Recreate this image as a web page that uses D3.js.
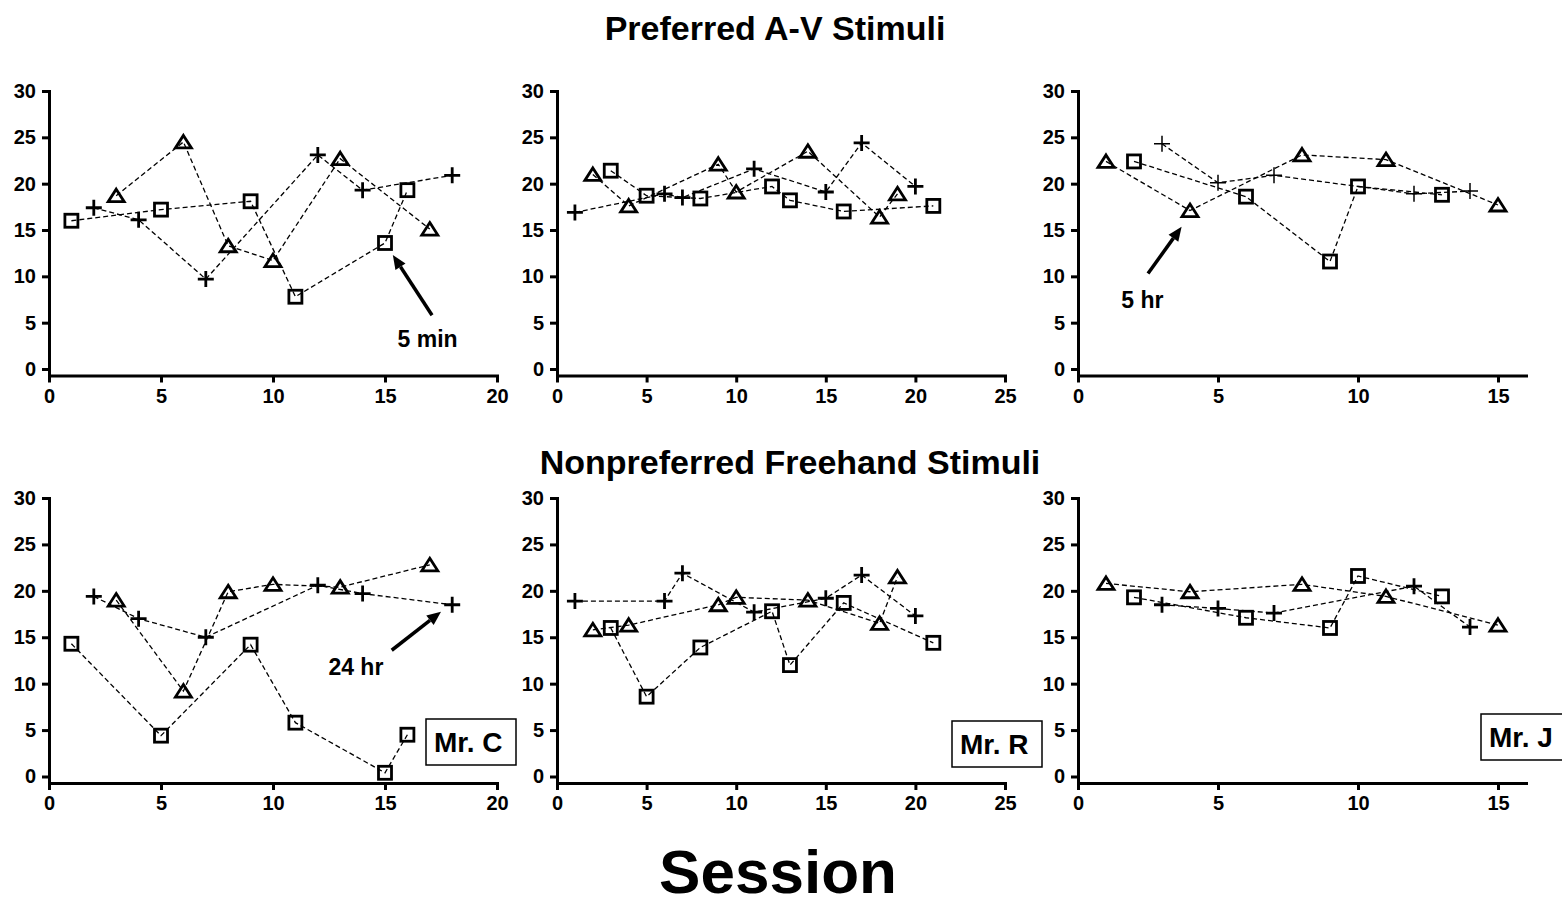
<!DOCTYPE html>
<html>
<head>
<meta charset="utf-8">
<script src="https://cdn.jsdelivr.net/npm/d3@7"></script>
<style>
body{margin:0;background:#fff;}
svg text{font-family:"Liberation Sans",Arial,sans-serif;font-weight:bold;fill:#000;}
</style>
</head>
<body>
<svg id="chart" width="1562" height="920"></svg>
<script>
// [session, score] pairs

// Mr. C, preferred A-V
var cPrefSquare   = [[1,16.0],[5,17.2],[9,18.1],[11,7.8],[15,13.6],[16,19.3]];
var cPrefTriangle = [[3,18.7],[6,24.5],[8,13.3],[10,11.7],[13,22.7],[17,15.1]];
var cPrefPlus     = [[2,17.4],[4,16.1],[7,9.7],[12,23.1],[14,19.3],[18,20.9]];
// Mr. R, preferred A-V
var rPrefSquare   = [[3,21.4],[5,18.7],[8,18.4],[12,19.7],[13,18.2],[16,17.0],[21,17.6]];
var rPrefTriangle = [[2,21.0],[4,17.6],[9,22.1],[10,19.1],[14,23.5],[18,16.4],[19,18.9]];
var rPrefPlus     = [[1,16.9],[6,18.9],[7,18.5],[11,21.6],[15,19.1],[17,24.4],[20,19.7]];
// Mr. J, preferred A-V
var jPrefSquare   = [[2,22.4],[6,18.6],[9,11.6],[10,19.7],[13,18.8]];
var jPrefTriangle = [[1,22.4],[4,17.1],[8,23.1],[11,22.6],[15,17.7]];
var jPrefPlus     = [[3,24.3],[5,20.1],[7,20.9],[12,18.9],[14,19.2]];
// Mr. C, nonpreferred freehand
var cNonSquare    = [[1,14.3],[5,4.4],[9,14.2],[11,5.8],[15,0.4],[16,4.5]];
var cNonTriangle  = [[3,19.0],[6,9.2],[8,19.9],[10,20.7],[13,20.4],[17,22.8]];
var cNonPlus      = [[2,19.4],[4,17.0],[7,15.0],[12,20.6],[14,19.7],[18,18.5]];
// Mr. R, nonpreferred freehand
var rNonSquare    = [[3,16.0],[5,8.6],[8,13.9],[12,17.8],[13,12.0],[16,18.7],[21,14.4]];
var rNonTriangle  = [[2,15.8],[4,16.3],[9,18.5],[10,19.3],[14,19.0],[18,16.5],[19,21.5]];
var rNonPlus      = [[1,18.9],[6,18.9],[7,21.9],[11,17.7],[15,19.2],[17,21.7],[20,17.3]];
// Mr. J, nonpreferred freehand
var jNonSquare    = [[2,19.3],[6,17.1],[9,16.0],[10,21.6],[13,19.4]];
var jNonTriangle  = [[1,20.8],[4,19.9],[8,20.7],[11,19.4],[15,16.3]];
var jNonPlus      = [[3,18.5],[5,18.1],[7,17.6],[12,20.5],[14,16.1]];

var xTicksC = [0,5,10,15,20];
var xTicksR = [0,5,10,15,20,25];
var xTicksJ = [0,5,10,15];
var yTicks = [0,5,10,15,20,25,30];
var rowTitles = ["Preferred A-V Stimuli","Nonpreferred Freehand Stimuli"];
var subjects = ["Mr. C","Mr. R","Mr. J"];

var svg = d3.select("#chart");

var cols = [{left:49, xMax:20, ticks:xTicksC},
            {left:557, xMax:25, ticks:xTicksR},
            {left:1078, xMax:16, ticks:xTicksJ}];
var rows = [{top:91, bottom:375.5}, {top:498, bottom:783}];
var axisW = 448;

var panels = [
  {row:0, col:0, sq:cPrefSquare, tri:cPrefTriangle, plus:cPrefPlus},
  {row:0, col:1, sq:rPrefSquare, tri:rPrefTriangle, plus:rPrefPlus},
  {row:0, col:2, sq:jPrefSquare, tri:jPrefTriangle, plus:jPrefPlus, thinPlus:true},
  {row:1, col:0, sq:cNonSquare, tri:cNonTriangle, plus:cNonPlus},
  {row:1, col:1, sq:rNonSquare, tri:rNonTriangle, plus:rNonPlus},
  {row:1, col:2, sq:jNonSquare, tri:jNonTriangle, plus:jNonPlus}
];

// arrow annotations, in data units of their panel
var notes = [
  {panel:0, text:"5 min", from:[17.1,5.8], to:[15.35,12.3], at:[16.9,2.4]},
  {panel:2, text:"5 hr", from:[2.5,10.3], to:[3.7,15.35], at:[2.3,6.55]},
  {panel:3, text:"24 hr", from:[15.3,13.6], to:[17.5,17.75], at:[13.7,10.9]}
];

var scales = [];

panels.forEach(function(p, i){
  var c = cols[p.col], r = rows[p.row];
  var x = d3.scaleLinear().domain([0, c.xMax]).range([c.left, c.left + axisW]);
  var y = d3.scaleLinear().domain([-0.7, 30]).range([r.bottom, r.top]);
  scales.push({x:x, y:y});
  var g = svg.append("g");

  var yAxis = g.append("g")
      .attr("transform", "translate(" + c.left + ",0)")
      .call(d3.axisLeft(y).tickValues(yTicks).tickSize(7).tickSizeOuter(0).tickPadding(6));
  var xAxis = g.append("g")
      .attr("transform", "translate(0," + r.bottom + ")")
      .call(d3.axisBottom(x).tickValues(c.ticks).tickSize(7).tickSizeOuter(0).tickPadding(6));
  [yAxis, xAxis].forEach(function(a){
    a.select(".domain").attr("stroke", "#000").attr("stroke-width", 3).attr("stroke-linecap", "square");
    a.selectAll(".tick line").attr("stroke", "#000").attr("stroke-width", 3);
    a.selectAll(".tick text").style("font-size", "20px").attr("fill", "#000");
  });

  var line = d3.line().x(function(d){ return x(d[0]); }).y(function(d){ return y(d[1]); });
  [p.sq, p.tri, p.plus].forEach(function(s){
    g.append("path").attr("d", line(s))
      .attr("fill", "none").attr("stroke", "#000")
      .attr("stroke-width", 1.3).attr("stroke-dasharray", "5,3");
  });

  g.selectAll(".sq").data(p.sq).enter().append("rect")
    .attr("x", function(d){ return x(d[0]) - 6.5; })
    .attr("y", function(d){ return y(d[1]) - 6.5; })
    .attr("width", 13).attr("height", 13)
    .attr("fill", "none").attr("stroke", "#000").attr("stroke-width", 2.8);

  g.selectAll(".tri").data(p.tri).enter().append("path")
    .attr("d", function(d){
      var cx = x(d[0]), cy = y(d[1]);
      return "M" + cx + "," + (cy - 6.5) + "L" + (cx + 8) + "," + (cy + 6) + "L" + (cx - 8) + "," + (cy + 6) + "Z";
    })
    .attr("fill", "none").attr("stroke", "#000").attr("stroke-width", 2.8).attr("stroke-linejoin", "miter");

  g.selectAll(".plus").data(p.plus).enter().append("path")
    .attr("d", function(d){
      var cx = x(d[0]), cy = y(d[1]);
      return "M" + (cx - 8) + "," + cy + "H" + (cx + 8) + "M" + cx + "," + (cy - 8) + "V" + (cy + 8);
    })
    .attr("fill", "none").attr("stroke", "#000").attr("stroke-width", p.thinPlus ? 1.5 : 2.8);

  // subject label box on bottom row
  if (p.row == 1) {
    var boxX = [426, 952, 1481][p.col];
    var boxY = [719, 721, 714][p.col];
    g.append("rect").attr("x", boxX).attr("y", boxY).attr("width", 90).attr("height", 46)
      .attr("fill", "#fff").attr("stroke", "#000").attr("stroke-width", 1.5);
    g.append("text").attr("x", boxX + 8).attr("y", boxY + 33)
      .style("font-size", "28px").text(subjects[p.col]);
  }
});

notes.forEach(function(n){
  var s = scales[n.panel];
  var x1 = s.x(n.from[0]), y1 = s.y(n.from[1]), x2 = s.x(n.to[0]), y2 = s.y(n.to[1]);
  var a = Math.atan2(y2 - y1, x2 - x1);
  var hl = 14, hw = 6;
  var bx = x2 - hl * Math.cos(a), by = y2 - hl * Math.sin(a);
  svg.append("line").attr("x1", x1).attr("y1", y1).attr("x2", bx).attr("y2", by)
    .attr("stroke", "#000").attr("stroke-width", 3.5);
  svg.append("path")
    .attr("d", "M" + x2 + "," + y2 +
      "L" + (bx + hw * Math.sin(a)) + "," + (by - hw * Math.cos(a)) +
      "L" + (bx - hw * Math.sin(a)) + "," + (by + hw * Math.cos(a)) + "Z")
    .attr("fill", "#000");
  svg.append("text").attr("x", s.x(n.at[0])).attr("y", s.y(n.at[1]))
    .attr("text-anchor", "middle").style("font-size", "23px").text(n.text);
});

svg.append("text").attr("x", 775).attr("y", 40).attr("text-anchor", "middle")
  .style("font-size", "34px").text(rowTitles[0]);
svg.append("text").attr("x", 790).attr("y", 474).attr("text-anchor", "middle")
  .style("font-size", "34px").text(rowTitles[1]);
svg.append("text").attr("x", 778).attr("y", 893).attr("text-anchor", "middle")
  .style("font-size", "62px").text("Session");
</script>
</body>
</html>
